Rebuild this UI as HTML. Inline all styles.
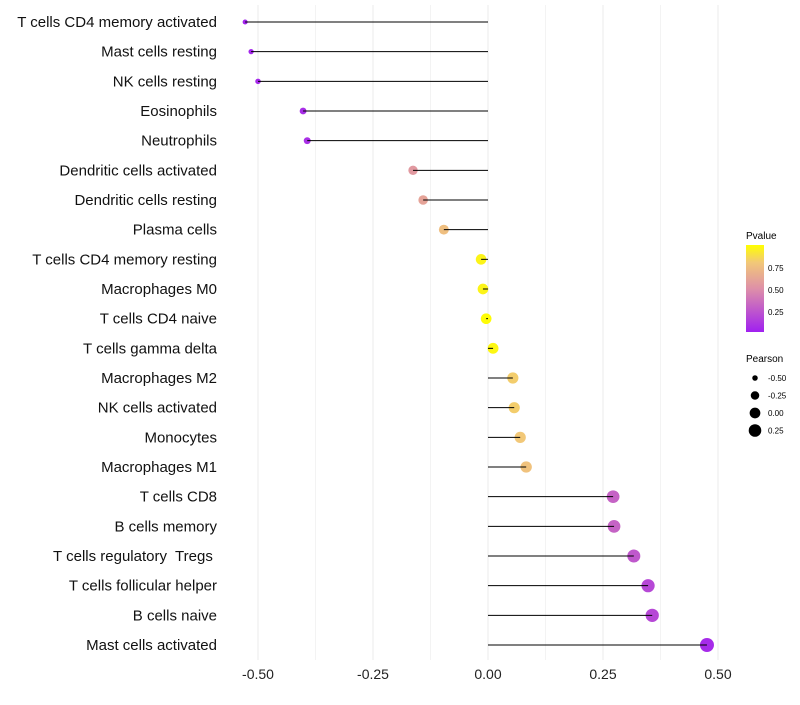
<!DOCTYPE html>
<html><head><meta charset="utf-8"><style>
body{margin:0;background:#fff}
svg text{font-family:"Liberation Sans",sans-serif;white-space:pre}
</style></head><body>
<svg id="chart" width="800" height="700" xmlns="http://www.w3.org/2000/svg">
<defs><linearGradient id="pg" x1="0" y1="1" x2="0" y2="0">
<stop offset="0" stop-color="#A020F0"/><stop offset="0.5" stop-color="#DE90A8"/><stop offset="0.8" stop-color="#F2C878"/><stop offset="1" stop-color="#FFFF00"/></linearGradient></defs>
<g id="grid"></g><g id="marks"></g><g id="ylabels"></g><g id="xlabels"></g>
<g>
<text x="746" y="239" font-size="10">Pvalue</text>
<rect x="746" y="245" width="18" height="87" fill="url(#pg)"/>
<text x="768" y="271" font-size="8">0.75</text>
<text x="768" y="293" font-size="8">0.50</text>
<text x="768" y="315" font-size="8">0.25</text>
</g>
<g id="sizeleg">
<text x="746" y="362" font-size="10">Pearson</text>
</g>
</svg>
<script>
const categories=["T cells CD4 memory activated","Mast cells resting","NK cells resting","Eosinophils","Neutrophils","Dendritic cells activated","Dendritic cells resting","Plasma cells","T cells CD4 memory resting","Macrophages M0","T cells CD4 naive","T cells gamma delta","Macrophages M2","NK cells activated","Monocytes","Macrophages M1","T cells CD8","B cells memory","T cells regulatory  Tregs ","T cells follicular helper","B cells naive","Mast cells activated"];
const pearson=[-0.528,-0.515,-0.50,-0.402,-0.393,-0.163,-0.141,-0.096,-0.015,-0.011,-0.004,0.011,0.054,0.057,0.070,0.083,0.272,0.274,0.317,0.348,0.357,0.476];
const pvalues=[0.02,0.03,0.04,0.06,0.07,0.55,0.6,0.75,0.96,0.96,0.99,0.97,0.82,0.82,0.8,0.77,0.3,0.3,0.25,0.18,0.18,0.05];
const xTicks=[-0.5,-0.25,0,0.25,0.5];
const xTickLabels=["-0.50","-0.25","0.00","0.25","0.50"];
const sizeKeys=[-0.5,-0.25,0,0.25];
const sizeKeyLabels=["-0.50","-0.25","0.00","0.25"];
const NS="http://www.w3.org/2000/svg";
const x=v=>488+v*460;
const y=i=>22+i*(623/21);
const r=v=>Math.sqrt(Math.max(1,28.8+42.5*v));
const stops=[[0,[160,32,240]],[0.5,[222,144,168]],[0.8,[242,200,120]],[1,[255,255,0]]];
function col(p){for(let k=1;k<stops.length;k++){if(p<=stops[k][0]){const[a0,a]=stops[k-1],[b0,b]=stops[k];const t=(p-a0)/(b0-a0);
 return `rgb(${a.map((v,j)=>Math.round(v+(b[j]-v)*t)).join(',')})`;}}return 'rgb(255,255,0)';}
function mk(tag,at,par){const e=document.createElementNS(NS,tag);for(const k in at)e.setAttribute(k,at[k]);document.getElementById(par).appendChild(e);return e;}
for(let g=-0.5;g<=0.5001;g+=0.125){
 const l=mk('line',{x1:x(g),x2:x(g),y1:5,y2:660,stroke:'#ebebeb','stroke-width':Math.abs((g*4)%1)<0.01?1:0.6},'grid');
 
 
}
xTicks.forEach((t,i)=>{const e=mk('text',{x:x(t),y:679,'font-size':14,'text-anchor':'middle',fill:'#222'},'xlabels');e.textContent=xTickLabels[i];
 
 });
categories.forEach((c,i)=>{
 const e=mk('text',{x:217,y:y(i)+5,'font-size':15,'text-anchor':'end',fill:'#111'},'ylabels');e.textContent=c;
 
 
 const p=mk('circle',{cx:x(pearson[i]),cy:y(i),r:r(pearson[i]),fill:col(pvalues[i])},'marks');
 
 
 const l=mk('line',{x1:x(0),x2:x(pearson[i]),y1:y(i),y2:y(i),stroke:'#000','stroke-width':1},'marks');
 
 
});
sizeKeys.forEach((v,i)=>{const cy=378+i*17.5;
 const c=mk('circle',{cx:755,cy:cy,r:r(v),fill:'#000'},'sizeleg');
 
 
 const t=mk('text',{x:768,y:cy+3,'font-size':8},'sizeleg');t.textContent=sizeKeyLabels[i];
 
 });
</script>
</body></html>
